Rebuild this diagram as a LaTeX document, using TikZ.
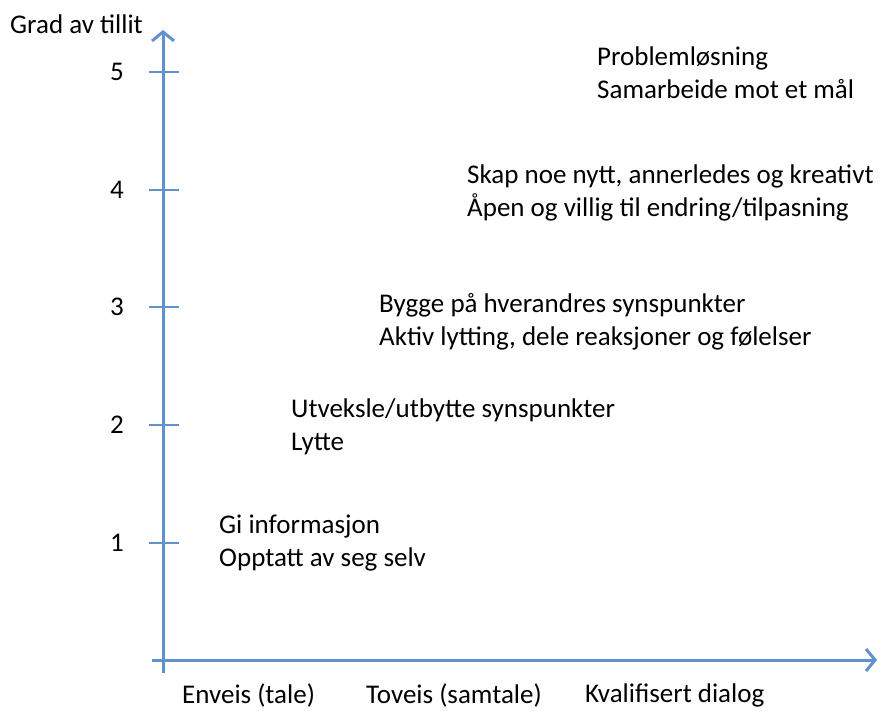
\documentclass[tikz,border=0pt]{standalone}
\usepackage{fontspec}
\setmainfont{Carlito}
\usetikzlibrary{arrows.meta}
\definecolor{axisblue}{RGB}{98,146,204}
\begin{document}
\begin{tikzpicture}[x=1pt,y=-1pt,
  axis/.style={draw=axisblue,line width=3pt},
  tick/.style={draw=axisblue,line width=2.2pt},
  tip/.style={-{Straight Barb[length=9pt,width=22pt,line width=3pt]}},
  lbl/.style={font=\fontsize{27}{33}\selectfont,inner sep=0pt,anchor=west,align=left},
  num/.style={font=\fontsize{27}{30}\selectfont,inner sep=0pt}]
\useasboundingbox (0,0) rectangle (883,711);
% axes
\coordinate (o) at (163,660);
\coordinate (ytop) at (163,30);
\coordinate (ybot) at (163,673);
\coordinate (xleft) at (152,660);
\coordinate (xright) at (877,660);
\draw[axis,tip] (ybot) -- (ytop);
\draw[axis,tip] (xleft) -- (xright);
% ticks and level numbers
\foreach \lev/\py in {1/543,2/425,3/307,4/190,5/72}{
  \coordinate (ta\lev) at (149,\py);
  \coordinate (tb\lev) at (179,\py);
  \draw[tick] (ta\lev) -- (tb\lev);
  \node[num] (n\lev) at (117,\py) {\lev};
}
\node[lbl] (ylabel) at (10,24) {Grad av tillit};
% levels
\node[lbl] (l5) at (597,73) {Problemløsning\\Samarbeide mot et mål};
\node[lbl] (l4) at (467,193) {Skap noe nytt, annerledes og kreativt\\Åpen og villig til endring/tilpasning};
\node[lbl] (l3) at (379,322) {Bygge på hverandres synspunkter\\Aktiv lytting, dele reaksjoner og følelser};
\node[lbl] (l2) at (291,427) {Utveksle/utbytte synspunkter\\Lytte};
\node[lbl] (l1) at (219,543) {Gi informasjon\\Opptatt av seg selv};
% dialogue categories
\node[lbl] (c1) at (182,695) {Enveis (tale)};
\node[lbl] (c2) at (366,695) {Toveis (samtale)};
\node[lbl] (c3) at (585,695) {Kvalifisert dialog};
\end{tikzpicture}
\end{document}
